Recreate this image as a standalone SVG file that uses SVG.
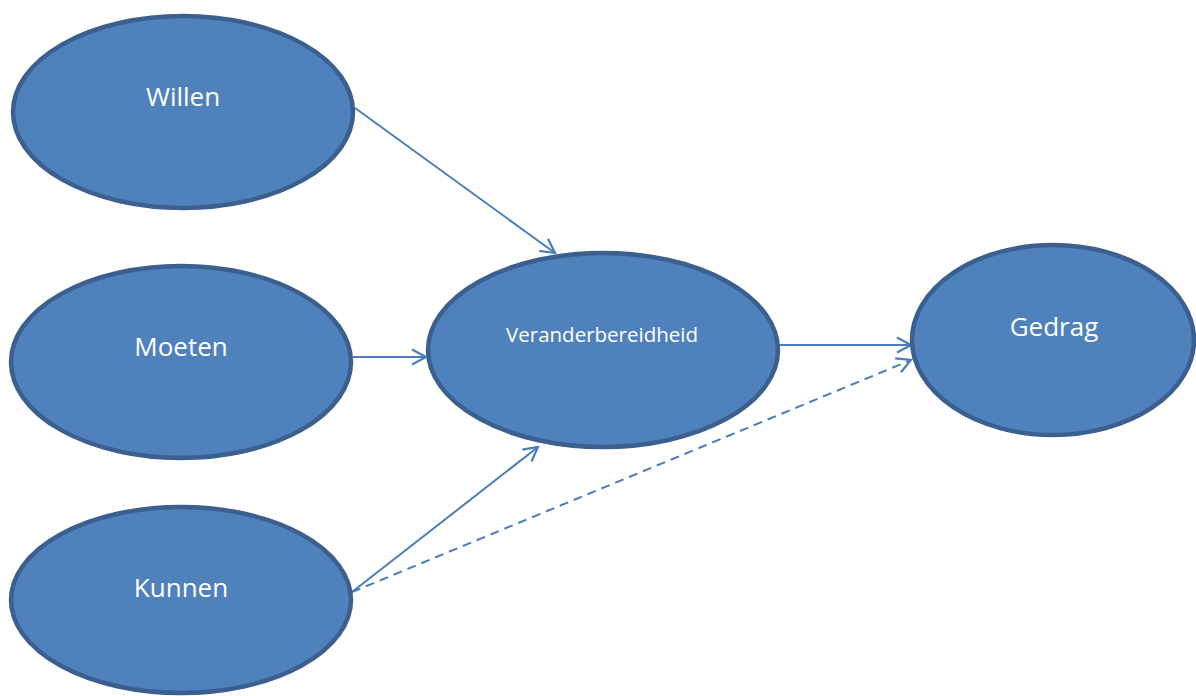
<svg xmlns="http://www.w3.org/2000/svg" width="1196" height="696" viewBox="0 0 1196 696">
  <style>
    .node ellipse { fill: #4f81bd; stroke: #3b5f8e; stroke-width: 4.5; }
    .node text { fill: #ffffff; font-family: "Open Sans", "Noto Sans", "Liberation Sans", sans-serif; text-anchor: middle; dominant-baseline: central; }
    .big { font-size: 26px; }
    .small { font-size: 20.5px; }
    .edge { stroke: #4a7ebb; stroke-width: 2; fill: none; marker-end: url(#open); }
    .dashed { stroke-dasharray: 9 6; }
  </style>
  <defs>
    <marker id="open" viewBox="0 0 18 18" refX="16" refY="9" markerWidth="18" markerHeight="18" markerUnits="userSpaceOnUse" orient="auto">
      <path d="M2,1.5 L16,9 L2,16.5" fill="none" stroke="#4a7ebb" stroke-width="2.2"/>
    </marker>
  </defs>
  <rect width="1196" height="696" fill="#ffffff"/>

  <g id="connectors">
    <line class="edge" x1="355" y1="108" x2="555" y2="253"/>
    <line class="edge" x1="353" y1="357" x2="426" y2="357"/>
    <line class="edge" x1="352" y1="592" x2="538" y2="447"/>
    <line class="edge" x1="779" y1="345" x2="911" y2="345"/>
    <line class="edge dashed" x1="352" y1="592" x2="911" y2="360"/>
  </g>

  <g id="willen" class="node">
    <ellipse cx="183" cy="112" rx="170" ry="96"/>
    <text class="big" x="183" y="96">Willen</text>
  </g>
  <g id="moeten" class="node">
    <ellipse cx="181" cy="362" rx="170" ry="96"/>
    <text class="big" x="181" y="346">Moeten</text>
  </g>
  <g id="kunnen" class="node">
    <ellipse cx="181" cy="600" rx="170" ry="93"/>
    <text class="big" x="181" y="587">Kunnen</text>
  </g>
  <g id="veranderbereidheid" class="node">
    <ellipse cx="603" cy="350" rx="175" ry="97"/>
    <text class="small" x="602" y="334">Veranderbereidheid</text>
  </g>
  <g id="gedrag" class="node">
    <ellipse cx="1053" cy="340" rx="141" ry="95"/>
    <text class="big" x="1054" y="326">Gedrag</text>
  </g>
</svg>
